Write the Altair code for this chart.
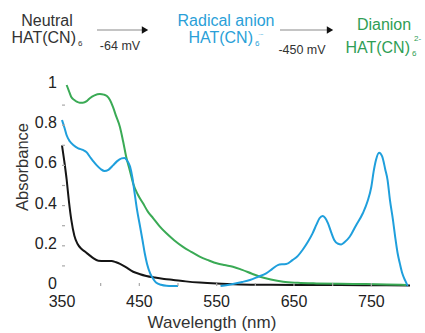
import altair as alt
import pandas as pd

# ---------------- data ----------------
series_names = ["Neutral", "Dianion", "Radical anion"]
series_colors = ["#151515", "#3aaa55", "#1f9fdc"]

wl_neutral = [350, 353, 356, 359, 362, 366, 370, 375, 380, 385, 390, 397, 405, 414, 420, 425,
              432, 442, 450, 459, 470, 482, 494, 510, 528, 550, 580, 620, 680, 740, 800]
abs_neutral = [0.70, 0.62, 0.53, 0.42, 0.33, 0.25, 0.21, 0.185, 0.17, 0.155, 0.14, 0.126, 0.124,
               0.125, 0.118, 0.11, 0.095, 0.071, 0.06, 0.05, 0.042, 0.035, 0.03, 0.023, 0.017,
               0.012, 0.008, 0.006, 0.005, 0.004, 0.003]

wl_dianion = [356, 359, 362, 366, 369, 373, 377, 382, 386, 392, 399, 404, 408, 412, 416, 420, 425,
              429, 433, 438, 442, 448, 455, 461, 468, 476, 485, 495, 506, 517, 528, 540, 550, 560,
              571, 583, 595, 606, 620, 636, 655, 679, 710, 743, 770, 795]
abs_dianion = [1.0, 0.97, 0.94, 0.925, 0.917, 0.912, 0.912, 0.92, 0.934, 0.948, 0.955, 0.952,
               0.945, 0.925, 0.89, 0.845, 0.79, 0.72, 0.643, 0.57, 0.51, 0.455, 0.41, 0.37, 0.337,
               0.298, 0.262, 0.228, 0.196, 0.17, 0.146, 0.127, 0.113, 0.104, 0.096, 0.08, 0.062,
               0.046, 0.032, 0.021, 0.016, 0.013, 0.011, 0.01, 0.008, 0.005]

wl_radical_a = [350, 353, 356, 360, 365, 371, 377, 382, 386, 390, 395, 400, 405, 410, 416, 421,
                427, 431, 434, 438, 441, 444, 447, 451, 454, 457, 460, 464, 468, 472, 478, 485,
                492, 500]
abs_radical_a = [0.826, 0.79, 0.75, 0.72, 0.70, 0.685, 0.677, 0.665, 0.643, 0.623, 0.60, 0.582,
                 0.572, 0.578, 0.60, 0.62, 0.635, 0.637, 0.625, 0.594, 0.54, 0.46, 0.38, 0.295,
                 0.23, 0.163, 0.11, 0.063, 0.035, 0.016, 0.006, 0.001, 0.0, 0.0]

wl_radical_b = [555, 571, 583, 593, 603, 614, 622, 629, 635, 640, 648, 655, 661, 668, 674, 679,
                683, 687, 690, 694, 698, 702, 707, 711, 716, 722, 730, 739, 745, 750, 753, 756,
                760, 764, 768, 771, 774, 778, 781, 784, 787, 790, 794, 797]
abs_radical_b = [0.0, 0.01, 0.02, 0.03, 0.045, 0.063, 0.085, 0.104, 0.108, 0.109, 0.129, 0.15,
                 0.179, 0.22, 0.262, 0.305, 0.337, 0.348, 0.34, 0.312, 0.268, 0.229, 0.21, 0.207,
                 0.22, 0.245, 0.3, 0.362, 0.42, 0.494, 0.57, 0.627, 0.663, 0.645, 0.58, 0.527,
                 0.43, 0.328, 0.24, 0.163, 0.11, 0.063, 0.025, 0.0]

x_label_values = [350, 450, 550, 650, 750]
x_label_texts = ["350", "450", "550", "650", "750"]
y_label_values = [0, 0.2, 0.4, 0.6, 0.8, 1]
y_label_texts = ["0", "0.2", "0.4", "0.6", "0.8", "1"]
x_minor_ticks = [400, 450, 500, 550, 600, 650, 700, 750]
y_minor_ticks = [0.1, 0.2, 0.3, 0.4, 0.5, 0.6, 0.7, 0.8, 0.9]

# ---------------- table ----------------
rows = []
for w, a in zip(wl_neutral, abs_neutral):
    rows.append({"wl": w, "abs": a, "series": "Neutral", "seg": "n"})
for w, a in zip(wl_dianion, abs_dianion):
    rows.append({"wl": w, "abs": a, "series": "Dianion", "seg": "d"})
for w, a in zip(wl_radical_a, abs_radical_a):
    rows.append({"wl": w, "abs": a, "series": "Radical anion", "seg": "r1"})
for w, a in zip(wl_radical_b, abs_radical_b):
    rows.append({"wl": w, "abs": a, "series": "Radical anion", "seg": "r2"})
df = pd.DataFrame(rows)

FONT = "Liberation Sans"
W, H = 348, 201
AXIS_GRAY = "#a8a8a8"
LABEL_C = "#222"

x_scale = alt.Scale(domain=[350, 800], nice=False, zero=False)
y_scale = alt.Scale(domain=[0, 1], nice=False)

lines = alt.Chart(df).mark_line(strokeWidth=2, interpolate="monotone").encode(
    x=alt.X("wl:Q", scale=x_scale,
            axis=alt.Axis(values=x_label_values, labels=False, ticks=False, grid=False,
                          title=None, domainColor=AXIS_GRAY, domainWidth=2)),
    y=alt.Y("abs:Q", scale=y_scale,
            axis=alt.Axis(values=y_label_values, labels=False, ticks=False, grid=False,
                          title=None, domainColor=AXIS_GRAY, domainWidth=2)),
    color=alt.Color("series:N", scale=alt.Scale(domain=series_names, range=series_colors),
                    legend=None),
    detail="seg:N",
)

xt = alt.Chart(pd.DataFrame({"t": x_minor_ticks})).mark_rule(color=AXIS_GRAY, strokeWidth=1.2).encode(
    x=alt.X("t:Q", scale=x_scale, axis=None),
    y=alt.value(H), y2=alt.value(H - 3),
)
yt = alt.Chart(pd.DataFrame({"t": y_minor_ticks})).mark_rule(color=AXIS_GRAY, strokeWidth=1.2).encode(
    y=alt.Y("t:Q", scale=y_scale, axis=None),
    x=alt.value(0), x2=alt.value(3),
)

xl = alt.Chart(pd.DataFrame({"v": x_label_values, "lab": x_label_texts})).mark_text(
    font=FONT, fontSize=16, color=LABEL_C, align="center", baseline="alphabetic"
).encode(x=alt.X("v:Q", scale=x_scale, axis=None), y=alt.value(H + 21), text="lab:N")

yl = alt.Chart(pd.DataFrame({"v": y_label_values, "lab": y_label_texts})).mark_text(
    font=FONT, fontSize=16, color=LABEL_C, align="right", baseline="middle", dy=-2
).encode(y=alt.Y("v:Q", scale=y_scale, axis=None), x=alt.value(-5), text="lab:N")

one = pd.DataFrame({"a": [0]})


def txt(s, x, y, size, color="#333", align="center", angle=0, baseline="alphabetic"):
    kw = dict(text=s, fontSize=size, font=FONT, color=color, align=align, baseline=baseline)
    if angle:
        kw["angle"] = angle
    return alt.Chart(one).mark_text(**kw).encode(x=alt.value(x), y=alt.value(y))


def arrow(x1, x2, y):
    r = alt.Chart(one).mark_rule(color="#b0b0b0", strokeWidth=1.5).encode(
        x=alt.value(x1), x2=alt.value(x2), y=alt.value(y))
    p = alt.Chart(one).mark_point(shape="triangle-right", filled=True, size=55,
                                  color="#111", opacity=1).encode(
        x=alt.value(x2 + 2), y=alt.value(y))
    return r + p


BLUE_T = "#2a9fd8"
GREEN_T = "#2f9e55"

ann = [
    txt("Wavelength (nm)", 150, 243, 17, "#333"),
    txt("Absorbance", -34, 82, 16.5, "#333", angle=270),
    txt("Neutral", -15, -59, 16, "#333"),
    txt("HAT(CN)", 14, -42, 16, "#333", align="right"),
    txt("6", 16, -39, 8, "#333", align="left"),
    txt("-64 mV", 58, -35, 12.5, "#333"),
    txt("Radical anion", 164, -59, 16, BLUE_T),
    txt("HAT(CN)", 191, -42, 16, BLUE_T, align="right"),
    txt("6", 193, -39, 8, BLUE_T, align="left"),
    txt("·−", 196, -49, 6, BLUE_T, align="left"),
    txt("-450 mV", 240, -31, 12.5, "#333"),
    txt("Dianion", 322, -55, 16, GREEN_T),
    txt("HAT(CN)", 348, -32, 16, GREEN_T, align="right"),
    txt("6", 350, -29, 8, GREEN_T, align="left"),
    txt("2-", 352, -44, 8, GREEN_T, align="left"),
]

chart = alt.layer(
    lines, xt, yt, xl, yl, arrow(35, 81, -55), arrow(218, 266, -55), *ann
).properties(
    width=W, height=H,
    autosize=alt.AutoSizeParams(type="none"),
    padding={"left": 62, "top": 85, "right": 15, "bottom": 47},
    background="white",
).configure_view(stroke=None)

chart.save("out.html", embed_options={"renderer": "svg", "actions": False})
